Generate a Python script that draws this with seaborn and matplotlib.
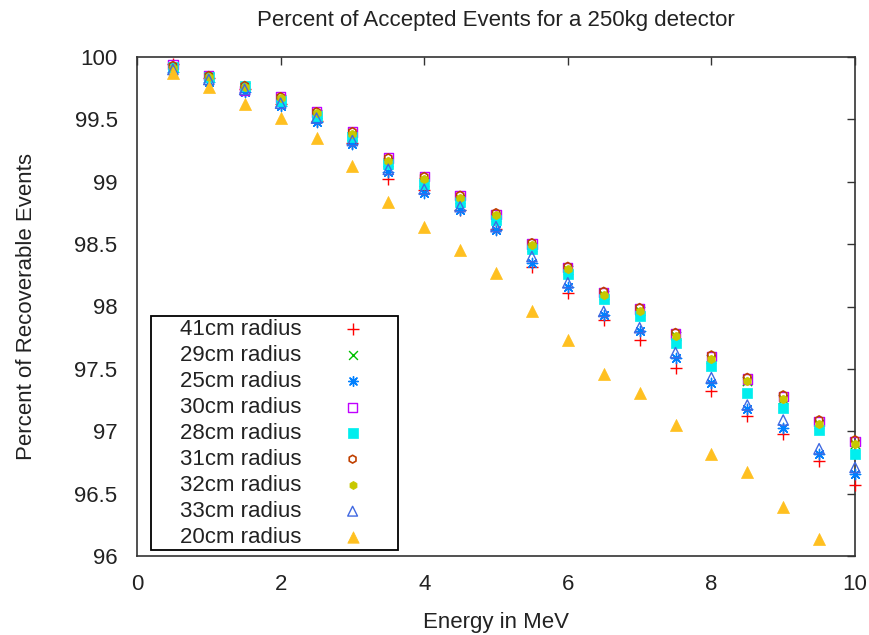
import matplotlib
matplotlib.use("Agg")
import matplotlib.pyplot as plt
from matplotlib.patches import Rectangle
import seaborn as sns

energy = [0.5, 1.0, 1.5, 2.0, 2.5, 3.0, 3.5, 4.0, 4.5, 5.0,
          5.5, 6.0, 6.5, 7.0, 7.5, 8.0, 8.5, 9.0, 9.5, 10.0]

r41 = [99.94, 99.83, 99.74, 99.62, 99.49, 99.31, 99.02, 98.93, 98.77, 98.62,
       98.32, 98.11, 97.89, 97.73, 97.51, 97.32, 97.12, 96.98, 96.76, 96.57]
r29 = [99.91, 99.84, 99.76, 99.66, 99.54, 99.37, 99.16, 99.00, 98.86, 98.72,
       98.48, 98.29, 98.09, 97.96, 97.76, 97.58, 97.40, 97.26, 97.06, 96.90]
r25 = [99.88, 99.80, 99.72, 99.61, 99.48, 99.30, 99.08, 98.91, 98.77, 98.61,
       98.35, 98.16, 97.93, 97.80, 97.59, 97.39, 97.18, 97.03, 96.82, 96.66]
r30 = [99.94, 99.85, 99.73, 99.68, 99.56, 99.40, 99.19, 99.04, 98.89, 98.74,
       98.50, 98.31, 98.11, 97.98, 97.78, 97.60, 97.42, 97.28, 97.08, 96.92]
r28 = [99.92, 99.84, 99.77, 99.65, 99.53, 99.36, 99.14, 98.98, 98.84, 98.69,
       98.46, 98.26, 98.06, 97.92, 97.71, 97.52, 97.31, 97.19, 97.01, 96.82]
r31 = [99.93, 99.85, 99.77, 99.68, 99.56, 99.40, 99.19, 99.04, 98.89, 98.75,
       98.51, 98.32, 98.12, 97.99, 97.79, 97.61, 97.43, 97.29, 97.09, 96.93]
r32 = [99.91, 99.84, 99.76, 99.67, 99.55, 99.38, 99.17, 99.02, 98.87, 98.73,
       98.49, 98.30, 98.09, 97.96, 97.76, 97.58, 97.40, 97.26, 97.06, 96.90]
r33 = [99.90, 99.82, 99.74, 99.63, 99.51, 99.33, 99.10, 98.94, 98.80, 98.64,
       98.40, 98.19, 97.96, 97.83, 97.63, 97.43, 97.21, 97.09, 96.86, 96.71]
r20 = [99.87, 99.76, 99.62, 99.51, 99.35, 99.13, 98.84, 98.64, 98.45, 98.27,
       97.96, 97.73, 97.46, 97.31, 97.05, 96.82, 96.67, 96.39, 96.14, 95.90]

labels = ["41cm radius", "29cm radius", "25cm radius", "30cm radius", "28cm radius",
          "31cm radius", "32cm radius", "33cm radius", "20cm radius"]
series = [r41, r29, r25, r30, r28, r31, r32, r33, r20]

xticks = [0, 2, 4, 6, 8, 10]
yticks = [96, 96.5, 97, 97.5, 98, 98.5, 99, 99.5, 100]
ytick_labels = ["96", "96.5", "97", "97.5", "98", "98.5", "99", "99.5", "100"]

sns.set_theme(style="white")
plt.rcParams['font.family'] = ['Liberation Sans', 'DejaVu Sans']

colors = ["#ff0000", "#00c000", "#0080ff", "#c000ff", "#00eeee",
          "#c04000", "#c8c800", "#4169e1", "#ffc020"]
styles = [
    dict(marker="+", s=70, linewidths=1.0),
    dict(marker="x", s=45, linewidths=1.0),
    dict(marker=(8, 2, 0), s=55, linewidths=1.0),
    dict(marker="s", s=45, facecolor="none", linewidths=1.0),
    dict(marker="s", s=50, linewidths=0.5),
    dict(marker="h", s=35, facecolor="none", linewidths=1.2),
    dict(marker="h", s=38, linewidths=0.5),
    dict(marker="^", s=55, facecolor="none", linewidths=1.0),
    dict(marker="^", s=75, linewidths=0.5),
]
# the 20cm point at 10 MeV lies below the plotted range and is clipped
clip = [False, False, False, False, False, False, False, False, True]

fig = plt.figure(figsize=(8.7, 6.35), dpi=100)
ax = fig.add_axes([137/870, 1 - 556/635, (855-137)/870, (556-57)/635])

for lab, ys, c, st, cl in zip(labels, series, colors, styles, clip):
    kw = dict(st)
    kw["edgecolor"] = c
    sns.scatterplot(x=energy, y=ys, color=c, label=lab, ax=ax, clip_on=cl, zorder=3, **kw)

ax.set_xlim(0, 10)
ax.set_ylim(96, 100)
ax.set_xticks(xticks)
ax.set_yticks(yticks)
ax.set_yticklabels(ytick_labels)
ax.tick_params(direction="in", length=6, width=1, color="#333333",
               top=True, right=True, labelsize=16, labelcolor="#222222")
for sp in ax.spines.values():
    sp.set_color("#333333")
    sp.set_linewidth(1.2)
ax.tick_params(axis="x", pad=13)
ax.tick_params(axis="y", pad=14)

ax.set_xlabel("Energy in MeV", fontsize=16, color="#222222", labelpad=12)
ax.set_ylabel("Percent of Recoverable Events", fontsize=16, color="#222222", labelpad=27)
ax.set_title("Percent of Accepted Events for a 250kg detector", fontsize=16,
             color="#222222", pad=22)

leg = ax.legend(loc="upper left", bbox_to_anchor=(180/870, 1 - 319/635),
                bbox_transform=fig.transFigure, borderaxespad=0,
                markerfirst=False, fontsize=16, frameon=False,
                labelspacing=0.225, handletextpad=1.8, handlelength=1.0,
                borderpad=0.0, scatterpoints=1, markerscale=0.95)
for t in leg.get_texts():
    t.set_color("#222222")
leg.set_zorder(6)

box = Rectangle((151/870, 1 - 550/635), (398-151)/870, (550-316)/635,
                transform=fig.transFigure, facecolor="white", edgecolor="black",
                linewidth=1.3, zorder=5, clip_on=False)
ax.add_artist(box)

fig.savefig("out.png", dpi=100)
